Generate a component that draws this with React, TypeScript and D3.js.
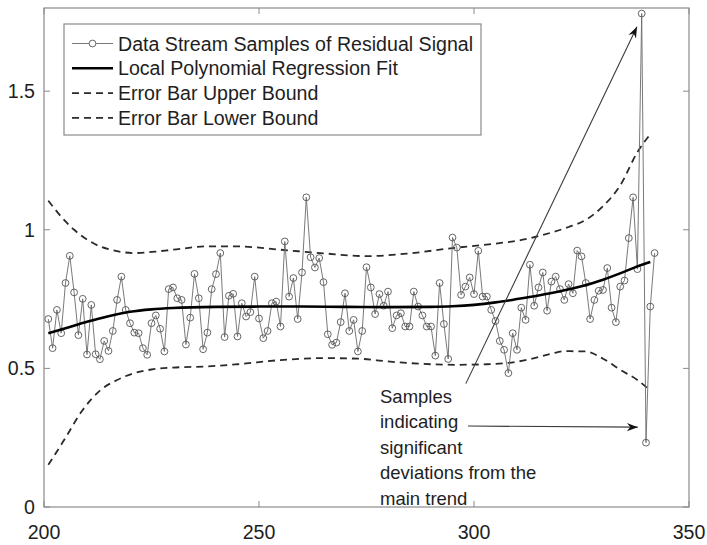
import React from 'react';
import * as d3 from 'd3';

// Residual signal samples, one per step starting at x = 201
const sampleStart = 201;
const residualSamples = [
  0.678, 0.573, 0.711, 0.627, 0.808, 0.906, 0.774, 0.620, 0.751, 0.550,
  0.729, 0.551, 0.533, 0.599, 0.563, 0.635, 0.747, 0.831, 0.711, 0.663,
  0.629, 0.627, 0.573, 0.549, 0.663, 0.691, 0.643, 0.561, 0.786, 0.792,
  0.753, 0.747, 0.586, 0.683, 0.841, 0.753, 0.569, 0.629, 0.786, 0.840,
  0.916, 0.613, 0.762, 0.769, 0.615, 0.735, 0.687, 0.703, 0.831, 0.680,
  0.609, 0.635, 0.735, 0.741, 0.651, 0.958, 0.759, 0.826, 0.678, 0.846,
  1.117, 0.901, 0.864, 0.898, 0.811, 0.623, 0.585, 0.593, 0.667, 0.771,
  0.635, 0.675, 0.561, 0.635, 0.865, 0.792, 0.696, 0.768, 0.726, 0.777,
  0.645, 0.691, 0.699, 0.651, 0.651, 0.777, 0.723, 0.691, 0.651, 0.651,
  0.546, 0.808, 0.660, 0.534, 0.972, 0.936, 0.765, 0.795, 0.828, 0.768,
  0.924, 0.759, 0.759, 0.711, 0.671, 0.599, 0.567, 0.483, 0.627, 0.567,
  0.719, 0.675, 0.874, 0.726, 0.792, 0.846, 0.708, 0.813, 0.831, 0.786,
  0.747, 0.804, 0.771, 0.925, 0.904, 0.808, 0.678, 0.747, 0.780, 0.783,
  0.862, 0.719, 0.667, 0.795, 0.817, 0.970, 1.117, 0.858, 1.780, 0.232,
  0.723, 0.916,
];

// Local polynomial regression fit, [x, value]
const fitCurve: [number, number][] = [
  [201, 0.627], [205, 0.645], [210, 0.668], [215, 0.688], [220, 0.704],
  [225, 0.713], [230, 0.718], [240, 0.722], [250, 0.723], [260, 0.723],
  [270, 0.722], [280, 0.721], [290, 0.722], [295, 0.724], [300, 0.729],
  [305, 0.738], [310, 0.750], [315, 0.763], [320, 0.778], [325, 0.796],
  [330, 0.820], [335, 0.849], [338, 0.868], [341, 0.884],
];

// Error bar bounds, [x, value]
const upperBound: [number, number][] = [
  [201, 1.105], [205, 1.03], [207, 1.0], [210, 0.965], [213, 0.94],
  [215, 0.93], [218, 0.92], [221, 0.916], [225, 0.92], [230, 0.928],
  [238, 0.94], [245, 0.94], [255, 0.928], [265, 0.915], [275, 0.905],
  [285, 0.915], [295, 0.934], [305, 0.95], [312, 0.966], [318, 0.99],
  [322, 1.01], [326, 1.036], [330, 1.085], [334, 1.16], [338, 1.28],
  [341, 1.345],
];
const lowerBound: [number, number][] = [
  [201, 0.152], [203, 0.2], [205, 0.25], [209, 0.35], [213, 0.42],
  [217, 0.458], [221, 0.483], [225, 0.496], [230, 0.503], [238, 0.507],
  [245, 0.515], [255, 0.53], [265, 0.537], [273, 0.535], [280, 0.525],
  [285, 0.519], [296, 0.513], [303, 0.515], [308, 0.52], [313, 0.533],
  [318, 0.553], [321, 0.562], [326, 0.561], [330, 0.535], [334, 0.495],
  [338, 0.458], [341, 0.42],
];

const xTicks = [200, 250, 300, 350];
const yTicks = [0, 0.5, 1, 1.5];
const xTickLabels = ['200', '250', '300', '350'];
const yTickLabels = ['0', '0.5', '1', '1.5'];

const legendLabels = [
  'Data Stream Samples of Residual Signal',
  'Local Polynomial Regression Fit',
  'Error Bar Upper Bound',
  'Error Bar Lower Bound',
];

const noteLines = ['Samples', 'indicating', 'significant', 'deviations from the', 'main trend'];
// Arrow tails and heads, in data coordinates
const noteArrows: { from: [number, number]; to: [number, number] }[] = [
  { from: [298.1, 0.445], to: [337.9, 1.732] },
  { from: [298.6, 0.292], to: [338.1, 0.288] },
];

const W = 707;
const H = 545;
const FONT = '"Liberation Sans", Arial, Helvetica, sans-serif';
const AXIS = '#8a8a8a';
const TEXT = '#1e1e1e';

function arrowHead(x1: number, y1: number, x2: number, y2: number) {
  const a = Math.atan2(y2 - y1, x2 - x1);
  const len = 11;
  const half = 4.2;
  const notch = 7.5;
  const bx = x2 - len * Math.cos(a);
  const by = y2 - len * Math.sin(a);
  const nx = x2 - notch * Math.cos(a);
  const ny = y2 - notch * Math.sin(a);
  const px = -Math.sin(a);
  const py = Math.cos(a);
  return `M${x2},${y2}L${bx + px * half},${by + py * half}L${nx},${ny}L${bx - px * half},${by - py * half}Z`;
}

export default function App() {
  const x = d3.scaleLinear().domain([200, 350]).range([44, 689]);
  const y = d3.scaleLinear().domain([0, 1.8]).range([507, 8]);
  const [x0, x1] = x.range();
  const [y0, y1] = y.range();

  const samples = residualSamples.map((v, i) => [sampleStart + i, v] as [number, number]);
  const straight = d3.line<[number, number]>().x((d) => x(d[0])).y((d) => y(d[1]));
  const smooth = d3
    .line<[number, number]>()
    .x((d) => x(d[0]))
    .y((d) => y(d[1]))
    .curve(d3.curveMonotoneX);

  const legendX = 64;
  const legendY = 24;
  const legendW = 417;
  const legendH = 111;
  const rowY = (i: number) => 43.5 + i * 24.8;

  return (
    <svg
      width={W}
      height={H}
      viewBox={`0 0 ${W} ${H}`}
      style={{ position: 'fixed', left: 0, top: 0, display: 'block', background: '#fff' }}
      fontFamily={FONT}
    >
      <rect x={0} y={0} width={W} height={H} fill="#fff" />

      {/* error bounds */}
      <path d={smooth(upperBound) ?? ''} fill="none" stroke="#2a2a2a" strokeWidth={1.8} strokeDasharray="7,5" />
      <path d={smooth(lowerBound) ?? ''} fill="none" stroke="#2a2a2a" strokeWidth={1.8} strokeDasharray="7,5" />

      {/* residual samples */}
      <path d={straight(samples) ?? ''} fill="none" stroke="#6a6a6a" strokeWidth={0.9} />
      {samples.map((d, i) => (
        <circle key={i} cx={x(d[0])} cy={y(d[1])} r={3.4} fill="none" stroke="#555" strokeWidth={0.9} />
      ))}

      {/* regression fit */}
      <path d={smooth(fitCurve) ?? ''} fill="none" stroke="#000" strokeWidth={2.6} />

      {/* axes box */}
      <rect x={x0} y={y1} width={x1 - x0} height={y0 - y1} fill="none" stroke={AXIS} strokeWidth={1.2} />
      {xTicks.map((t, i) => (
        <g key={`xt${i}`}>
          <line x1={x(t)} x2={x(t)} y1={y0} y2={y0 - 6} stroke={AXIS} strokeWidth={1} />
          <line x1={x(t)} x2={x(t)} y1={y1} y2={y1 + 6} stroke={AXIS} strokeWidth={1} />
          <text x={x(t)} y={532} textAnchor="middle" dominantBaseline="central" fontSize={19.6} fill={TEXT}>
            {xTickLabels[i]}
          </text>
        </g>
      ))}
      {yTicks.map((t, i) => (
        <g key={`yt${i}`}>
          <line x1={x0} x2={x0 + 6} y1={y(t)} y2={y(t)} stroke={AXIS} strokeWidth={1} />
          <line x1={x1} x2={x1 - 6} y1={y(t)} y2={y(t)} stroke={AXIS} strokeWidth={1} />
          <text x={35} y={y(t)} textAnchor="end" dominantBaseline="central" fontSize={19.6} fill={TEXT}>
            {yTickLabels[i]}
          </text>
        </g>
      ))}

      {/* legend */}
      <rect x={legendX} y={legendY} width={legendW} height={legendH} fill="#fff" stroke={AXIS} strokeWidth={1.2} />
      <line x1={72} x2={113} y1={rowY(0)} y2={rowY(0)} stroke="#6a6a6a" strokeWidth={0.9} />
      <circle cx={92.5} cy={rowY(0)} r={3.4} fill="#fff" stroke="#555" strokeWidth={0.9} />
      <line x1={72} x2={113} y1={rowY(1)} y2={rowY(1)} stroke="#000" strokeWidth={2.6} />
      <line x1={72} x2={113} y1={rowY(2)} y2={rowY(2)} stroke="#2a2a2a" strokeWidth={1.8} strokeDasharray="7,5" />
      <line x1={72} x2={113} y1={rowY(3)} y2={rowY(3)} stroke="#2a2a2a" strokeWidth={1.8} strokeDasharray="7,5" />
      {legendLabels.map((s, i) => (
        <text key={s} x={118} y={rowY(i)} dominantBaseline="central" fontSize={19.6} fill={TEXT}>
          {s}
        </text>
      ))}

      {/* annotation */}
      {noteArrows.map((a, i) => {
        const ax1 = x(a.from[0]);
        const ay1 = y(a.from[1]);
        const ax2 = x(a.to[0]);
        const ay2 = y(a.to[1]);
        return (
          <g key={`ar${i}`}>
            <line x1={ax1} y1={ay1} x2={ax2} y2={ay2} stroke="#3a3a3a" strokeWidth={1.1} />
            <path d={arrowHead(ax1, ay1, ax2, ay2)} fill="#111" />
          </g>
        );
      })}
      {noteLines.map((s, i) => (
        <text key={s} x={380} y={396 + i * 25.6} dominantBaseline="central" fontSize={18.5} fill={TEXT}>
          {s}
        </text>
      ))}
    </svg>
  );
}
